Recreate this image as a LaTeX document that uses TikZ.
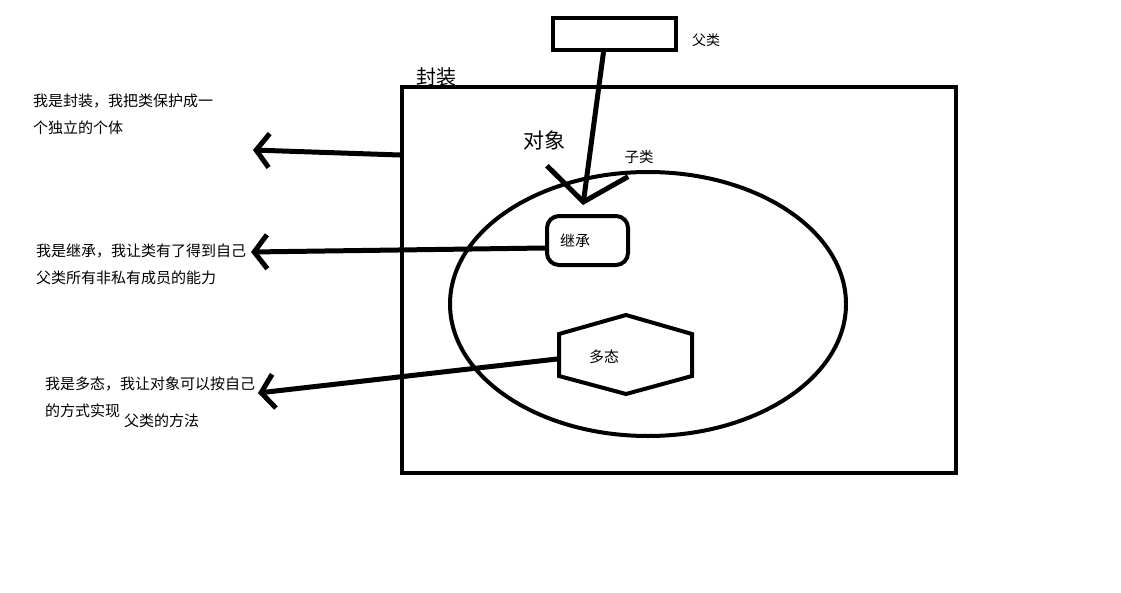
\documentclass[tikz,border=0pt]{standalone}
\usepackage{fontspec}
\newfontfamily\cjk{Noto Sans CJK SC}
\usetikzlibrary{arrows.meta,shapes.geometric}
\begin{document}
\begin{tikzpicture}[x=1pt,y=-1pt,
  box/.style={draw,line width=4pt,inner sep=0pt},
  lbl/.style={font=\cjk\fontsize{15}{27}\selectfont,inner sep=0pt,anchor=west,align=left},
  arr/.style={line width=5pt,-{Straight Barb[length=13pt,width=34pt]}}]
\useasboundingbox[fill=white] (0,0) rectangle (1121,592);
% shapes
\node[box,minimum width=554pt,minimum height=386pt] (outer) at (679,280) {};
\node[box,minimum width=123pt,minimum height=32pt] (parent) at (614.5,34) {};
\node[box,ellipse,minimum width=396pt,minimum height=264pt] (obj) at (648,304) {};
\node[box,rounded corners=12pt,minimum width=81pt,minimum height=49pt,text width=55pt,inner xsep=13pt,align=left,font=\cjk\fontsize{15}{18}\selectfont] (jc) at (587.5,240.5) {继承};
\draw[line width=4pt] (559,334) -- (626,315) -- (692,334) -- (692,376) -- (626,394) -- (559,376) -- cycle;
\node[lbl] (dt) at (589,357) {多态};
\coordinate (hx) at (557,359);
% labels
\node[lbl,font=\cjk\fontsize{14}{17}\selectfont] (plbl) at (692,40) {父类};
\node[font=\cjk\fontsize{20}{24}\selectfont,inner sep=0pt] (fz) at (436,77) {封装};
\node[font=\cjk\fontsize{21}{25}\selectfont,inner sep=0pt] (dx) at (544,140) {对象};
\node[font=\cjk\fontsize{14.5}{17}\selectfont,inner sep=0pt] (zl) at (639,157) {子类};
% left texts
\node[lbl] (t1) at (33,114) {我是封装，我把类保护成一\\个独立的个体};
\node[lbl] (t2) at (36,264.5) {我是继承，我让类有了得到自己\\父类所有非私有成员的能力};
\node[lbl] (t3) at (45,397.5) {我是多态，我让对象可以按自己\\的方式实现};
\node[lbl] (t4) at (124,421) {父类的方法};
% arrow ends
\coordinate (e1) at (253,150);
\coordinate (e2) at (251,252);
\coordinate (e3) at (258,393);
\coordinate (e4) at (583,205);
% connectors
\draw[arr] ([yshift=-70pt]outer.north west) -- (e1);
\draw[arr] ([yshift=-7.5pt]jc.west) -- (e2);
\draw[arr] (hx) -- (e3);
\draw[line width=5pt,-{Straight Barb[length=31pt,width=82pt]}] ([xshift=-11pt]parent.south) -- (e4);
\end{tikzpicture}
\end{document}
